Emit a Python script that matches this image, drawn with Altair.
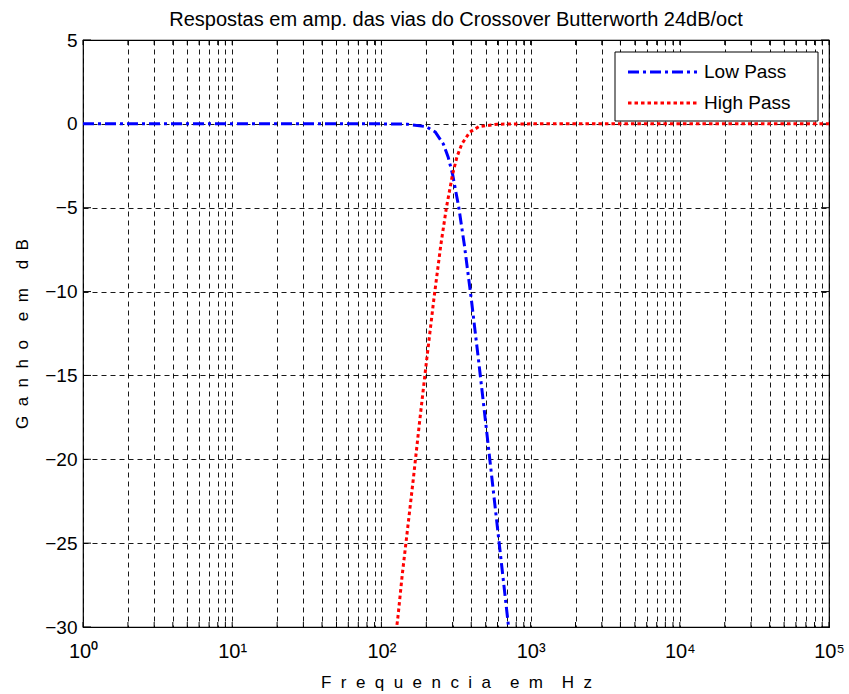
import altair as alt
import pandas as pd

# ---- data ----
low_freq = [1, 10, 50, 100, 150, 200, 230, 260, 280, 300, 330, 360, 400, 450, 500, 550, 600, 650, 700, 720]
low_db = [0, 0, 0, 0, -0.02, -0.17, -0.49, -1.2, -1.97, -3.01, -4.97, -7.24, -10.41, -14.25, -17.82, -21.1, -24.1, -26.87, -29.42, -30.4]

high_freq = [120, 125, 129, 138, 150, 164, 180, 200, 225, 250, 273, 300, 321, 346, 391, 450, 600, 1000, 10000, 100000]
high_db = [-31.8, -30.4, -29.42, -26.87, -24.1, -21.1, -17.82, -14.25, -10.41, -7.24, -4.97, -3.01, -1.97, -1.2, -0.49, -0.17, -0.02, 0, 0, 0]

series_names = ["Low Pass", "High Pass"]
series_colors = ["#0000FF", "#FF0000"]
series_dash = [[11, 4, 3, 4], [3.5, 3]]

x_ticks = [m * 10 ** k for k in range(5) for m in range(1, 10)] + [100000]
x_major = [1, 10, 100, 1000, 10000, 100000]
y_ticks = [-30, -25, -20, -15, -10, -5, 0, 5]

title_text = "Respostas em amp. das vias do Crossover Butterworth 24dB/oct"


def spaced(text):
    nb = "\u00a0"
    return (nb * 4).join((nb * 2).join(w) for w in text.split(" "))


x_title = spaced("Frequencia em Hz")
y_title = spaced("Ganho em dB")

df = pd.concat([
    pd.DataFrame({"f": low_freq, "db": low_db, "s": series_names[0]}),
    pd.DataFrame({"f": high_freq, "db": high_db, "s": series_names[1]}),
])

FONT = "Liberation Sans"
W, H = 746, 587

xscale = alt.Scale(type="log", domain=[1, 100000], nice=False)
yscale = alt.Scale(domain=[-30, 5], nice=False, zero=False)

label_expr = ("datum.value==1?'10⁰':datum.value==10?'10¹':datum.value==100?'10²':"
              "datum.value==1000?'10³':datum.value==10000?'10⁴':datum.value==100000?'10⁵':''")

lines = alt.Chart(df).mark_line(clip=True, strokeWidth=3).encode(
    x=alt.X("f:Q", scale=xscale,
            axis=alt.Axis(values=x_ticks, labelExpr=label_expr, title=x_title,
                          grid=True, gridDash=[5, 4], gridColor="black", gridOpacity=0.9,
                          ticks=False, labelFontSize=20, labelPadding=14, labelFlush=False,
                          labelOverlap=False, titleFontSize=17, titleFontWeight="normal",
                          titlePadding=13, domain=False)),
    y=alt.Y("db:Q", scale=yscale,
            axis=alt.Axis(values=y_ticks, title=y_title, grid=True, gridDash=[5, 4],
                          gridColor="black", gridOpacity=0.9, ticks=False,
                          labelFontSize=19, labelPadding=6, titleFontSize=17,
                          titleFontWeight="normal", titlePadding=13, domain=False)),
    color=alt.Color("s:N", scale=alt.Scale(domain=series_names, range=series_colors), legend=None),
    strokeDash=alt.StrokeDash("s:N", scale=alt.Scale(domain=series_names, range=series_dash), legend=None),
    detail="s:N",
)

# inside tick marks along the frame
xt = pd.DataFrame({"f": x_ticks})
yt = pd.DataFrame({"v": y_ticks})

bot_t = alt.Chart(xt).mark_rule(color="black", strokeWidth=1).encode(
    x=alt.X("f:Q", scale=xscale), y=alt.value(H), y2=alt.value(H - 5))
top_t = alt.Chart(xt).mark_rule(color="black", strokeWidth=1).encode(
    x=alt.X("f:Q", scale=xscale), y=alt.value(0), y2=alt.value(5))
left_t = alt.Chart(yt).mark_rule(color="black", strokeWidth=1).encode(
    y=alt.Y("v:Q", scale=yscale), x=alt.value(0), x2=alt.value(8))
right_t = alt.Chart(yt).mark_rule(color="black", strokeWidth=1).encode(
    y=alt.Y("v:Q", scale=yscale), x=alt.value(W), x2=alt.value(W - 8))

# legend drawn by hand (MATLAB style box)
one = pd.DataFrame({"a": [0]})
leg_box = alt.Chart(one).mark_rect(fill="white", stroke="black", strokeWidth=1).encode(
    x=alt.value(532), x2=alt.value(735), y=alt.value(12), y2=alt.value(81))
leg_layers = [leg_box]
row_y = [32, 63]
for name, col, dash, ry in zip(series_names, series_colors, series_dash, row_y):
    d = pd.DataFrame({"name": [name]})
    leg_layers.append(alt.Chart(d).mark_rule(color=col, strokeWidth=3, strokeDash=dash).encode(
        x=alt.value(545), x2=alt.value(614), y=alt.value(ry)))
    leg_layers.append(alt.Chart(d).mark_text(align="left", baseline="middle", fontSize=19,
                                             font=FONT, color="black").encode(
        x=alt.value(621), y=alt.value(ry), text="name:N"))

chart = alt.layer(bot_t, top_t, left_t, right_t, lines, *leg_layers).properties(
    width=W, height=H,
    title=alt.Title(title_text, fontSize=20, fontWeight="normal", font=FONT,
                    offset=1, anchor="middle"),
    autosize=alt.AutoSizeParams(type="none"),
    padding={"left": 83, "top": 40, "right": 20, "bottom": 67},
).configure_view(stroke="black", strokeWidth=1.2).configure_axis(
    labelFont=FONT, titleFont=FONT, labelColor="black", titleColor="black"
).configure_title(color="black")

chart.save("out.html", embed_options={"renderer": "svg", "actions": False})
